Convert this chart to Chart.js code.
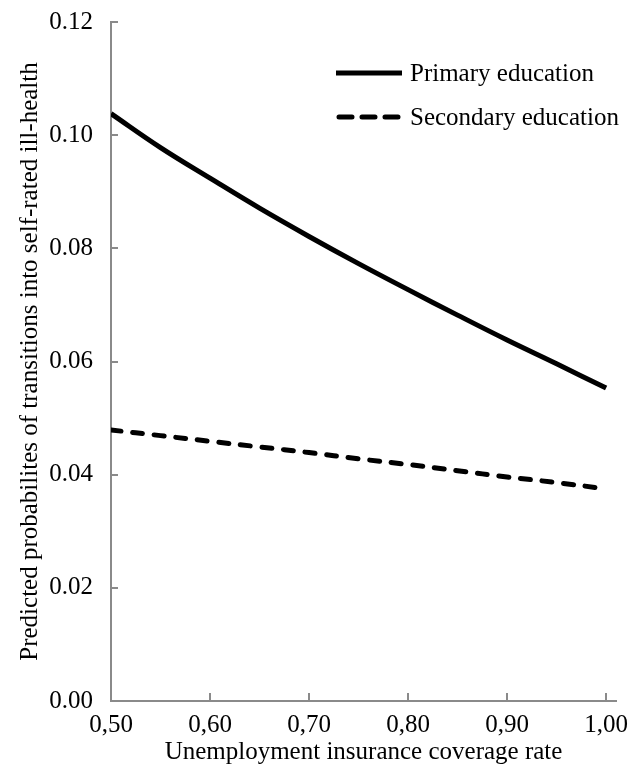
<!DOCTYPE html>
<html>
<head>
<meta charset="utf-8">
<script src="https://cdn.jsdelivr.net/npm/chart.js@4"></script>
<style>
    html, body { margin: 0; padding: 0; background: #fff; }
    #box { width: 633px; height: 774px; }
</style>
</head>
<body>
<div id="box"><canvas id="coverageChart"></canvas></div>
<script>
const coverageRate = [0.50, 0.55, 0.60, 0.65, 0.70, 0.75, 0.80, 0.85, 0.90, 0.95, 1.00];
const primaryEducation = [0.1038, 0.0978, 0.0924, 0.0871, 0.0821, 0.0773, 0.0727, 0.0682, 0.0638, 0.0596, 0.0553];
const secondaryEducation = [0.0479, 0.0469, 0.0459, 0.0449, 0.0439, 0.0428, 0.0418, 0.0407, 0.0396, 0.0386, 0.0375];

const xTicks = [0.50, 0.60, 0.70, 0.80, 0.90, 1.00];
const xTickLabels = ['0,50', '0,60', '0,70', '0,80', '0,90', '1,00'];
const yTicks = [0.00, 0.02, 0.04, 0.06, 0.08, 0.10, 0.12];
const yTickLabels = ['0.00', '0.02', '0.04', '0.06', '0.08', '0.10', '0.12'];

const seriesNames = ['Primary education', 'Secondary education'];

const axisGrey = '#8a8a8a';
const serif = "'Liberation Serif', 'Times New Roman', serif";

Chart.defaults.font.family = serif;
Chart.defaults.color = '#000';

const toPoints = values => values.map((v, i) => ({x: coverageRate[i], y: v}));

// inward tick marks, as in the original figure
const innerTicks = {
    id: 'innerTicks',
    afterDraw(chart) {
        const {ctx, chartArea} = chart;
        const xs = chart.scales.x, ys = chart.scales.y;
        ctx.save();
        ctx.strokeStyle = axisGrey;
        ctx.lineWidth = 2;
        ctx.beginPath();
        yTicks.slice(1).forEach(v => {
            const y = Math.round(ys.getPixelForValue(v));
            ctx.moveTo(chartArea.left, y);
            ctx.lineTo(chartArea.left + 7, y);
        });
        xTicks.slice(1).forEach(v => {
            const x = Math.round(xs.getPixelForValue(v));
            ctx.moveTo(x, chartArea.bottom);
            ctx.lineTo(x, chartArea.bottom - 8);
        });
        ctx.stroke();
        ctx.restore();
    }
};

// legend drawn inside the plot area, top right
const innerLegend = {
    id: 'innerLegend',
    afterDraw(chart) {
        const {ctx, chartArea} = chart;
        const x0 = chartArea.left + 225, x1 = chartArea.left + 291;
        ctx.save();
        ctx.font = '25px ' + serif;
        ctx.fillStyle = '#000';
        ctx.textBaseline = 'middle';
        chart.data.datasets.forEach((ds, i) => {
            const y = chartArea.top + 51 + i * 44;
            ctx.strokeStyle = '#000';
            ctx.lineWidth = 5;
            ctx.lineCap = ds.borderDash.length ? 'round' : 'butt';
            ctx.setLineDash(ds.borderDash.length ? [13, 10] : []);
            ctx.beginPath();
            ctx.moveTo(x0 + (ds.borderDash.length ? 3 : 0), y);
            ctx.lineTo(x1, y);
            ctx.stroke();
            ctx.setLineDash([]);
            ctx.fillText(ds.label, x1 + 8, y + 1);
        });
        ctx.restore();
    }
};

new Chart(document.getElementById('coverageChart'), {
    type: 'line',
    data: {
        datasets: [{
            label: seriesNames[0],
            data: toPoints(primaryEducation),
            borderColor: '#000',
            borderWidth: 5,
            borderDash: [],
            tension: 0.4,
            pointRadius: 0,
            fill: false
        }, {
            label: seriesNames[1],
            data: toPoints(secondaryEducation),
            borderColor: '#000',
            borderWidth: 5,
            borderDash: [10, 11.7],
            borderCapStyle: 'round',
            tension: 0.4,
            pointRadius: 0,
            fill: false
        }]
    },
    options: {
        responsive: true,
        maintainAspectRatio: false,
        animation: false,
        layout: {padding: {top: 22, right: 17, bottom: 0, left: 0}},
        plugins: {
            legend: {display: false},
            tooltip: {enabled: false}
        },
        scales: {
            x: {
                type: 'linear',
                min: 0.5,
                max: 1.01,
                afterBuildTicks: scale => { scale.ticks = xTicks.map(v => ({value: v})); },
                afterFit: scale => {
                    scale.height = 73;
                    scale.paddingLeft = 0;
                    scale.paddingRight = 0;
                },
                grid: {display: false, drawTicks: false},
                border: {color: axisGrey, width: 2},
                ticks: {
                    padding: 9,
                    maxRotation: 0,
                    font: {size: 25},
                    callback: v => xTickLabels[xTicks.findIndex(t => Math.abs(t - v) < 1e-6)]
                },
                title: {
                    display: true,
                    text: 'Unemployment insurance coverage rate',
                    font: {size: 25},
                    padding: {top: 0, bottom: 7}
                }
            },
            y: {
                min: 0,
                max: 0.12,
                afterBuildTicks: scale => { scale.ticks = yTicks.map(v => ({value: v})); },
                afterFit: scale => {
                    scale.width = 111;
                    scale.paddingTop = 0;
                    scale.paddingBottom = 0;
                },
                grid: {display: false, drawTicks: false},
                border: {color: axisGrey, width: 2},
                ticks: {
                    padding: 18,
                    font: {size: 25},
                    callback: v => yTickLabels[yTicks.findIndex(t => Math.abs(t - v) < 1e-6)]
                },
                title: {
                    display: true,
                    text: 'Predicted probabilites of transitions into self-rated ill-health',
                    font: {size: 25},
                    padding: {top: 15, bottom: 0}
                }
            }
        }
    },
    plugins: [innerTicks, innerLegend]
});
</script>
</body>
</html>
